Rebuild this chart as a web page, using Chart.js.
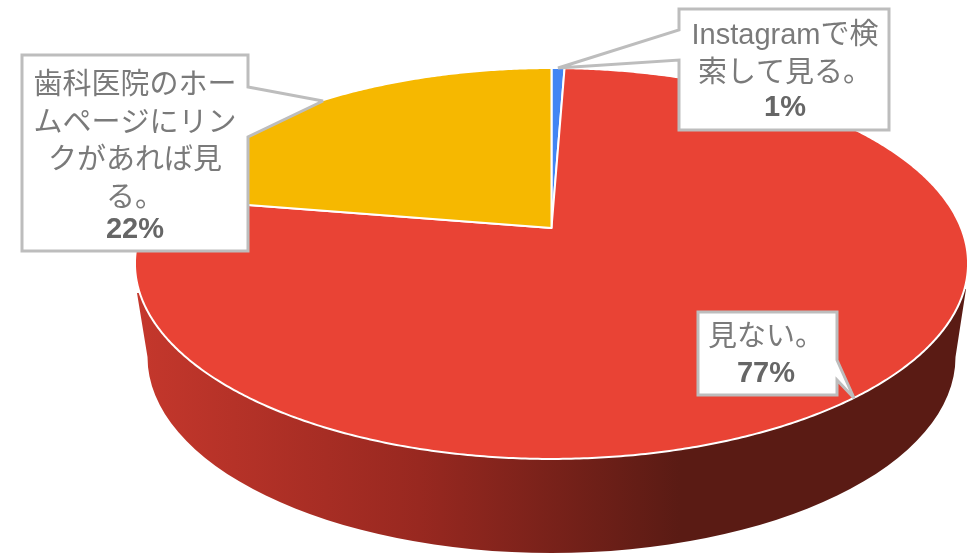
<!DOCTYPE html>
<html lang="ja">
<head>
<meta charset="utf-8">
<title>pie</title>
<style>
  html, body { margin: 0; padding: 0; background: #fff; overflow: hidden; }
  canvas { display: block; }
</style>
<script src="https://cdn.jsdelivr.net/npm/chart.js@4"></script>
</head>
<body>
<canvas id="chart" width="980" height="553"></canvas>
<script>
const categoryLines = [
  ['Instagramで検', '索して見る。'],
  ['見ない。'],
  ['歯科医院のホー', 'ムページにリン', 'クがあれば見', 'る。']
]
const categories = categoryLines.map(lines => lines.join(''))
const shares = [0.6, 77, 22.4]
const sliceColors = ['#4285f4', '#e94335', '#f6b800']

// where the top of the pie sits on screen (perspective, so the apex is above the ellipse centre)
const pie = { x: 551.5, y: 228, a: 409.6, b: 189, k: 0.1816 }

function project(theta) {
  const u = Math.sin(theta)
  const v = -Math.cos(theta)
  const w = 1 - pie.k * v
  return [pie.x + pie.a * u / w, pie.y + pie.b * v / w]
}

// chart.js can only do flat circles, so take its arc angles and project them
const tiltedPie = {
  id: 'tiltedPie',
  beforeDatasetDraw(chart, args) {
    const ctx = chart.ctx
    const arcs = args.meta.data

    // side wall
    const wall = ctx.createLinearGradient(140, 0, 980, 0)
    wall.addColorStop(0, '#c4372c')
    wall.addColorStop(0.333, '#982820')
    wall.addColorStop(0.643, '#5a1b14')
    wall.addColorStop(1, '#5a1b14')
    ctx.save()
    ctx.beginPath()
    ctx.moveTo(137, 293)
    ctx.lineTo(147.5, 357)
    ctx.ellipse(551.5, 357, 404, 196, 0, Math.PI, 0, true)
    ctx.lineTo(966, 289)
    ctx.closePath()
    ctx.fillStyle = wall
    ctx.fill()

    // slices
    arcs.forEach((arc, i) => {
      const from = arc.startAngle + Math.PI / 2
      const to = arc.endAngle + Math.PI / 2
      ctx.beginPath()
      ctx.moveTo(pie.x, pie.y)
      const steps = Math.max(4, Math.ceil((to - from) * 120))
      for (let s = 0; s <= steps; s++) {
        const p = project(from + (to - from) * s / steps)
        ctx.lineTo(p[0], p[1])
      }
      ctx.closePath()
      ctx.fillStyle = sliceColors[i]
      ctx.fill()
      ctx.strokeStyle = '#ffffff'
      ctx.lineWidth = 2
      ctx.lineJoin = 'round'
      ctx.stroke()
    })
    ctx.restore()
    return false
  },
  afterDraw(chart) {
    const total = shares.reduce((a, b) => a + b, 0)
    callouts.forEach((c, i) => drawCallout(chart.ctx, c, categoryLines[i], Math.round(shares[i] / total * 100) + '%'))
  }
}

// boxes with their tails
const callouts = [
  { box: [679, 9, 889, 130], tail: [[679, 60], [558, 68], [679, 30]], textX: 785, textY: 36 },
  { box: [698, 312, 837, 395], tail: [[837, 360], [854, 398], [837, 380]], textX: 766, textY: 338 },
  { box: [22, 55, 248, 251], tail: [[248, 87], [323, 101], [248, 137]], textX: 135, textY: 86 }
]

function drawCallout(ctx, c, lines, pct) {
  const [l, t, r, b] = c.box
  ctx.save()
  ctx.beginPath()
  ctx.moveTo(l, t)
  // tail goes in on whichever side it hangs from
  if (c.tail[0][0] === r) {
    ctx.lineTo(r, t)
    c.tail.forEach(p => ctx.lineTo(p[0], p[1]))
    ctx.lineTo(r, b)
    ctx.lineTo(l, b)
  } else {
    ctx.lineTo(r, t)
    ctx.lineTo(r, b)
    ctx.lineTo(l, b)
    c.tail.forEach(p => ctx.lineTo(p[0], p[1]))
  }
  ctx.closePath()
  ctx.fillStyle = '#ffffff'
  ctx.fill()
  ctx.strokeStyle = '#bdbdbd'
  ctx.lineWidth = 3
  ctx.lineJoin = 'miter'
  ctx.miterLimit = 3
  ctx.stroke()

  ctx.textAlign = 'center'
  ctx.textBaseline = 'middle'
  ctx.fillStyle = '#7a7a7a'
  ctx.font = '29px "Liberation Sans", "Noto Sans CJK JP", sans-serif'
  lines.forEach((line, i) => ctx.fillText(line, c.textX, c.textY + i * 37.5))
  ctx.fillStyle = '#666666'
  ctx.font = 'bold 29px "Liberation Sans", "Noto Sans CJK JP", sans-serif'
  ctx.fillText(pct, c.textX, c.textY + lines.length * 36)
  ctx.restore()
}

new Chart(document.getElementById('chart'), {
  type: 'pie',
  data: {
    labels: categories,
    datasets: [{
      data: shares,
      backgroundColor: sliceColors,
      borderColor: '#ffffff',
      borderWidth: 2
    }]
  },
  options: {
    responsive: false,
    animation: false,
    devicePixelRatio: 1,
    plugins: {
      legend: { display: false },
      tooltip: { enabled: false }
    }
  },
  plugins: [tiltedPie]
})
</script>
</body>
</html>
